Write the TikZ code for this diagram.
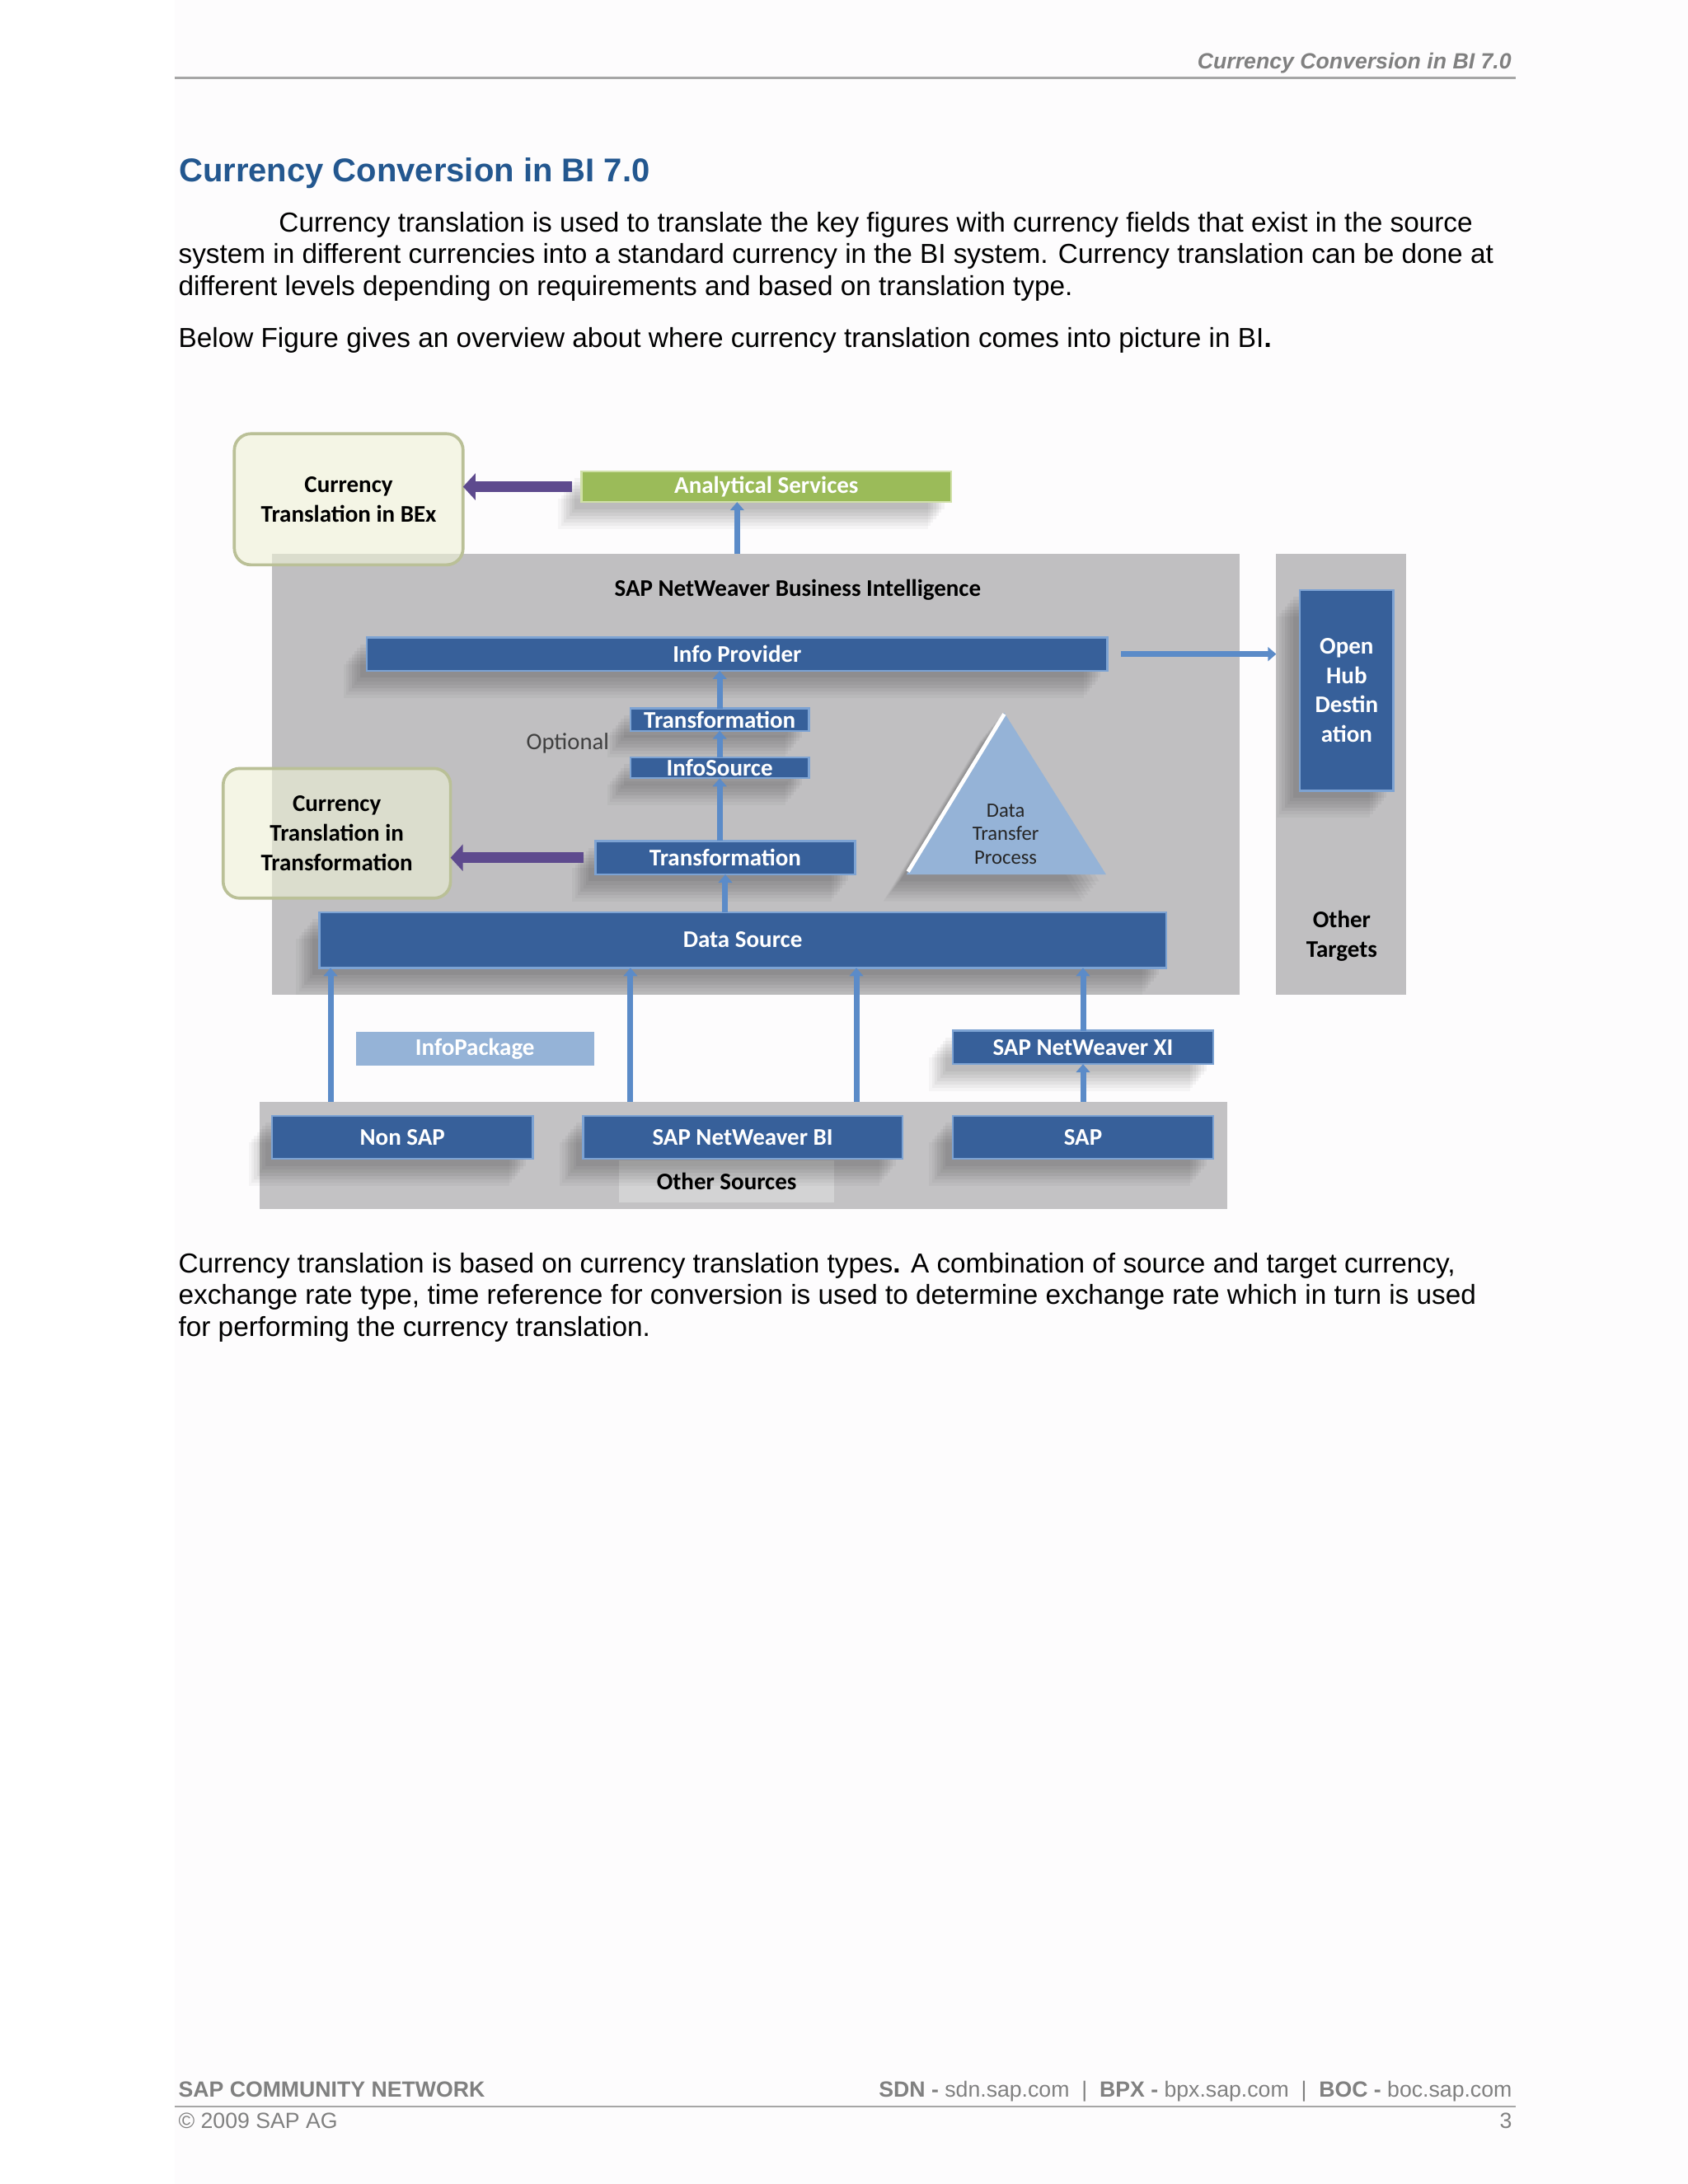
\documentclass[tikz,border=0pt]{standalone}
\usepackage{fontspec}
\setmainfont{Liberation Sans}
\newfontfamily\carl{Carlito}
\usetikzlibrary{arrows.meta,shadows,calc}
\definecolor{barblue}{HTML}{37609A}
\definecolor{barlight}{HTML}{7DA3D3}
\definecolor{arrowblue}{HTML}{5B8BC8}
\definecolor{purplearrow}{HTML}{5E4A8E}
\definecolor{greenbar}{HTML}{9BBB59}
\definecolor{greenlight}{HTML}{D0E0A8}
\definecolor{lightblue}{HTML}{95B3D7}
\definecolor{panelgrey}{HTML}{C0BFC1}
\definecolor{srcgrey}{HTML}{C3C2C4}
\definecolor{labelgrey}{HTML}{D3D3D4}
\definecolor{paleyel}{HTML}{EEF1D6}
\definecolor{olivegrey}{HTML}{BAC097}
\definecolor{titleblue}{HTML}{23578F}
\definecolor{hdrgrey}{HTML}{808080}
\definecolor{linegrey}{HTML}{A6A6A6}
\definecolor{pagebg}{HTML}{FDFCFD}
\newcommand\bx[7]{%
  \node[#6, minimum width={(#4-#2)*0.5078pt}, minimum height={(#5-#3)*0.5078pt}] (#1) at ({(#2+#4)/2},{(#3+#5)/2}) {#7};}
\begin{document}
\begin{tikzpicture}[x=0.5078pt,y=-0.5078pt,
  bodytext/.style={anchor=base west, inner sep=0, outer sep=0, font=\fontsize{10}{12}\selectfont},
  foottext/.style={inner sep=0, outer sep=0, text=hdrgrey, font=\fontsize{8}{9.6}\selectfont},
  softshadow/.style={
    general shadow={shadow xshift=-2.5pt, shadow yshift=-2.5pt, fill=black, opacity=0.04},
    general shadow={shadow xshift=-3.5pt, shadow yshift=-3.8pt, fill=black, opacity=0.04},
    general shadow={shadow xshift=-4.5pt, shadow yshift=-5pt, fill=black, opacity=0.045},
    general shadow={shadow xshift=-5.5pt, shadow yshift=-6.2pt, fill=black, opacity=0.045},
    general shadow={shadow xshift=-6.5pt, shadow yshift=-7.4pt, fill=black, opacity=0.04},
    general shadow={shadow xshift=-7.5pt, shadow yshift=-8.6pt, fill=black, opacity=0.035},
    general shadow={shadow xshift=-8.5pt, shadow yshift=-9.8pt, fill=black, opacity=0.03}},
  bar/.style={rectangle, fill=barblue, draw=barlight, line width=0.7pt, text=white,
    font=\carl\bfseries\fontsize{8.7}{10.7}\selectfont, align=center, inner sep=0, outer sep=0, softshadow},
  greenbox/.style={bar, fill=greenbar, draw=greenlight},
  palebar/.style={rectangle, fill=lightblue, text=white, font=\carl\bfseries\fontsize{8.7}{10.7}\selectfont, inner sep=0, outer sep=0},
  panel/.style={rectangle, fill=panelgrey, inner sep=0, outer sep=0},
  ctbox/.style={rectangle, rounded corners=6pt, fill=paleyel, fill opacity=0.6, text opacity=1, draw=olivegrey, line width=1.1pt,
    font=\carl\bfseries\fontsize{8.7}{10.7}\selectfont, align=center, inner sep=0, outer sep=0},
  dlabel/.style={font=\carl\bfseries\fontsize{8.7}{10.9}\selectfont, align=center, inner sep=0},
  blarrow/.style={draw=arrowblue, line width=2.1pt, -{Triangle[width=5pt,length=3pt]}},
  purarrow/.style={draw=purplearrow, line width=4pt, -{Triangle[width=9.5pt,length=4.5pt]}}
]
\useasboundingbox (0,0) rectangle (1210,1566);
\fill[pagebg] (125,0) rectangle (1210,1566);

% header
\node[anchor=base east, inner sep=0, text=hdrgrey, font=\bfseries\itshape\fontsize{8}{9.6}\selectfont] (hdr) at (1084,49.2) {Currency Conversion in BI 7.0};
\draw[linegrey, line width=0.8pt] (125,56) -- (1087,56);

% title and text
\node[anchor=base west, inner sep=0, text=titleblue, font=\bfseries\fontsize{12}{14}\selectfont] (title) at (128,130.5) {Currency Conversion in BI 7.0};
\node[bodytext] (p1a) at (200,166.4) {Currency translation is used to translate the key figures with currency fields that exist in the source};
\node[bodytext] (p1b) at (128,189) {system in different currencies into a standard currency in the BI system. Currency translation can be done at};
\node[bodytext] (p1c) at (128,211.7) {different levels depending on requirements and based on translation type.};
\node[bodytext] (p2) at (128,249) {Below Figure gives an overview about where currency translation comes into picture in BI\textbf{.}};

% ---------- diagram ----------
\bx{bi}{195}{397}{889}{713}{panel}{}
\bx{ot}{915}{397}{1008}{713}{panel}{}
\bx{os}{186}{790}{880}{867}{panel, fill=srcgrey}{}
\bx{osl}{444}{832}{598}{862}{rectangle, fill=labelgrey, inner sep=0}{}
\node[dlabel] (oslt) at (osl.center) {Other Sources};

\node[dlabel] (bit) at (572,423) {SAP NetWeaver Business Intelligence};
\node[dlabel] (ott) at (962,671) {Other\\Targets};
\node[dlabel, font=\carl\fontsize{8.6}{10}\selectfont, text=black!75] (opt) at (407,533) {Optional};

\bx{as}{417}{338}{682}{360}{greenbox}{Analytical Services}
\bx{ip}{263}{457}{794}{481}{bar}{Info Provider}
\bx{ohd}{932}{423}{999}{567}{bar}{Open\\Hub\\Destin\\ation}
\bx{tr1}{452}{508}{580}{524}{bar}{Transformation}
\bx{is}{452}{543}{580}{558}{bar}{InfoSource}
\bx{tr2}{427}{603}{613}{627}{bar}{Transformation}
\bx{ds}{229}{654}{836}{694}{bar}{Data Source}
\bx{ipk}{255}{740}{426}{764}{palebar}{InfoPackage}
\bx{xi}{683}{739}{870}{763}{bar}{SAP NetWeaver XI}
\bx{nsap}{195}{800}{382}{831}{bar}{Non SAP}
\bx{nwbi}{418}{800}{647}{831}{bar}{SAP NetWeaver BI}
\bx{sap}{683}{800}{870}{831}{bar}{SAP}

% triangle (data transfer process)
\path[fill=lightblue, softshadow] (720,511) -- (793,627) -- (650,627) -- cycle;
\draw[white, line width=1.4pt] (651,625) -- (720,512);
\node[font=\carl\fontsize{7.4}{8.6}\selectfont, align=center, inner sep=0, text=black!85] (dtp) at (721,598) {Data\\Transfer\\Process};

% currency translation boxes
\bx{bex}{168}{311}{332}{405}{ctbox}{Currency\\Translation in BEx}
\bx{ctt}{160}{551}{323}{644}{ctbox}{Currency\\Translation in\\Transformation}

% arrows
\draw[blarrow] (bi.north -| ip.north) -- (as.south -| ip.north);
\draw[blarrow] (tr1.north) -- (tr1.north |- ip.south);
\draw[blarrow] (is.north) -- (tr1.south);
\draw[blarrow] (is.south |- tr2.north) -- (is.south);
\draw[blarrow] (tr2.south |- ds.north) -- (tr2.south);
\draw[blarrow] ([xshift=5pt]ip.east) -- (ip.east -| ot.west);
\coordinate (s1) at (237,790);
\coordinate (s2) at (452,790);
\coordinate (s3) at (614,790);
\draw[blarrow] (s1) -- (s1 |- ds.south);
\draw[blarrow] (s2) -- (s2 |- ds.south);
\draw[blarrow] (s3) -- (s3 |- ds.south);
\draw[blarrow] (xi.north) -- (xi.north |- ds.south);
\draw[blarrow] (sap.north |- os.north) -- (xi.south);
\draw[purarrow] ([xshift=-3.5pt]as.west) -- (as.west -| bex.east);
\draw[purarrow] ([xshift=-4.5pt]tr2.west) -- (tr2.west -| ctt.east);

% closing paragraph
\node[bodytext] (p3a) at (128,912.8) {Currency translation is based on currency translation types\textbf{.} A combination of source and target currency,};
\node[bodytext] (p3b) at (128,935.4) {exchange rate type, time reference for conversion is used to determine exchange rate which in turn is used};
\node[bodytext] (p3c) at (128,958.1) {for performing the currency translation.};

% footer
\node[foottext, anchor=base west, font=\bfseries\fontsize{8}{9.6}\selectfont] (fl) at (128,1503.6) {SAP COMMUNITY NETWORK};
\node[foottext, anchor=base east] (fr) at (1084,1503.6) {\textbf{SDN -} sdn.sap.com \ \textbar\ \ \textbf{BPX -} bpx.sap.com \ \textbar\ \ \textbf{BOC -} boc.sap.com};
\draw[linegrey, line width=0.8pt] (125,1510.5) -- (1087,1510.5);
\node[foottext, anchor=base west] (cp) at (128,1526.2) {\textcopyright{} 2009 SAP AG};
\node[foottext, anchor=base east] (pg) at (1084,1526.2) {3};
\end{tikzpicture}
\end{document}
